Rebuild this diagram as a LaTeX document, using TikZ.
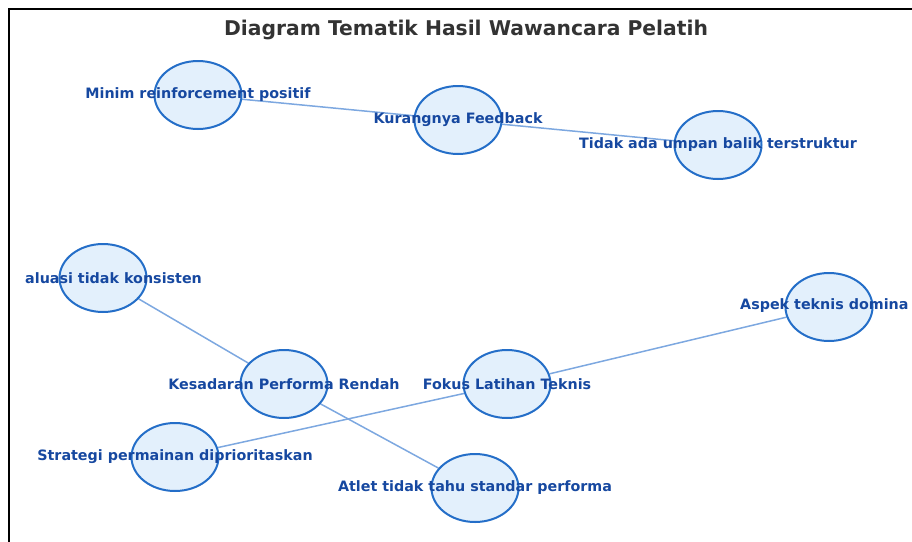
\documentclass[tikz,border=0pt]{standalone}
\usepackage{fontspec}
\setmainfont{DejaVu Sans}
\usetikzlibrary{positioning, shapes.geometric, backgrounds}

\definecolor{nodefill}{RGB}{227,240,252}
\definecolor{nodeline}{RGB}{36,110,200}
\definecolor{edgeblue}{RGB}{125,168,224}
\definecolor{textblue}{RGB}{22,72,160}
\definecolor{titlegray}{RGB}{51,51,51}

\begin{document}
\begin{tikzpicture}[
            x=1pt, y=-1pt,
            on grid,
            theme/.style={ellipse, draw=nodeline, fill=nodefill, line width=2pt, minimum width=87pt, minimum height=68pt, inner sep=0pt},
            theme_text/.style={text=textblue, font=\fontsize{14.3}{16}\selectfont\bfseries, inner sep=0pt},
            link/.style={edgeblue, line width=1.5pt},
            frame_line/.style={black, line width=2pt}
        ]
        \useasboundingbox (0,0) rectangle (912,541);

        % Title
        \node[text=titlegray, font=\fontsize{20.3}{24}\selectfont\bfseries] (title) at (466,30) {Diagram Tematik Hasil Wawancara Pelatih};

        % Upper cluster
        \node[theme] (minim) at (198,95) {};
        \node[theme, below right=25pt and 260pt of minim] (feedback) {};
        \node[theme, below right=25pt and 260pt of feedback] (terstruktur) {};

        % Lower cluster
        \node[theme] (evaluasi) at (103,278) {};
        \node[theme, below right=106pt and 181pt of evaluasi] (kesadaran) {};
        \node[theme, below right=104pt and 191pt of kesadaran] (atlet) {};
        \node[theme, right=223pt of kesadaran] (fokus) {};
        \node[theme, below left=73pt and 109pt of kesadaran] (strategi) {};
        \node[theme, above right=77pt and 322pt of fokus] (aspek) {};

        % Labels (some cut off at the picture edge)
        \node[theme_text] (minim_text) at (minim) {Minim reinforcement positif};
        \node[theme_text] (feedback_text) at (feedback) {Kurangnya Feedback};
        \node[theme_text] (terstruktur_text) at (terstruktur) {Tidak ada umpan balik terstruktur};
        \node[theme_text, anchor=west] (evaluasi_text) at (25,278) {aluasi tidak konsisten};
        \node[theme_text] (kesadaran_text) at (kesadaran) {Kesadaran Performa Rendah};
        \node[theme_text] (atlet_text) at (atlet) {Atlet tidak tahu standar performa};
        \node[theme_text] (fokus_text) at (fokus) {Fokus Latihan Teknis};
        \node[theme_text] (strategi_text) at (strategi) {Strategi permainan diprioritaskan};
        \node[theme_text, anchor=west] (aspek_text) at (740,306) {Aspek teknis domina};

        % Frame and links behind the nodes
        \begin{scope}[on background layer]
            \draw[frame_line] (9,548) -- (9,9) -- (920,9);
            \draw[link] (minim) -- (feedback);
            \draw[link] (feedback) -- (terstruktur);
            \draw[link] (evaluasi) -- (kesadaran);
            \draw[link] (kesadaran) -- (atlet);
            \draw[link] (strategi) -- (fokus);
            \draw[link] (fokus) -- (aspek);
        \end{scope}

    \end{tikzpicture}
\end{document}
